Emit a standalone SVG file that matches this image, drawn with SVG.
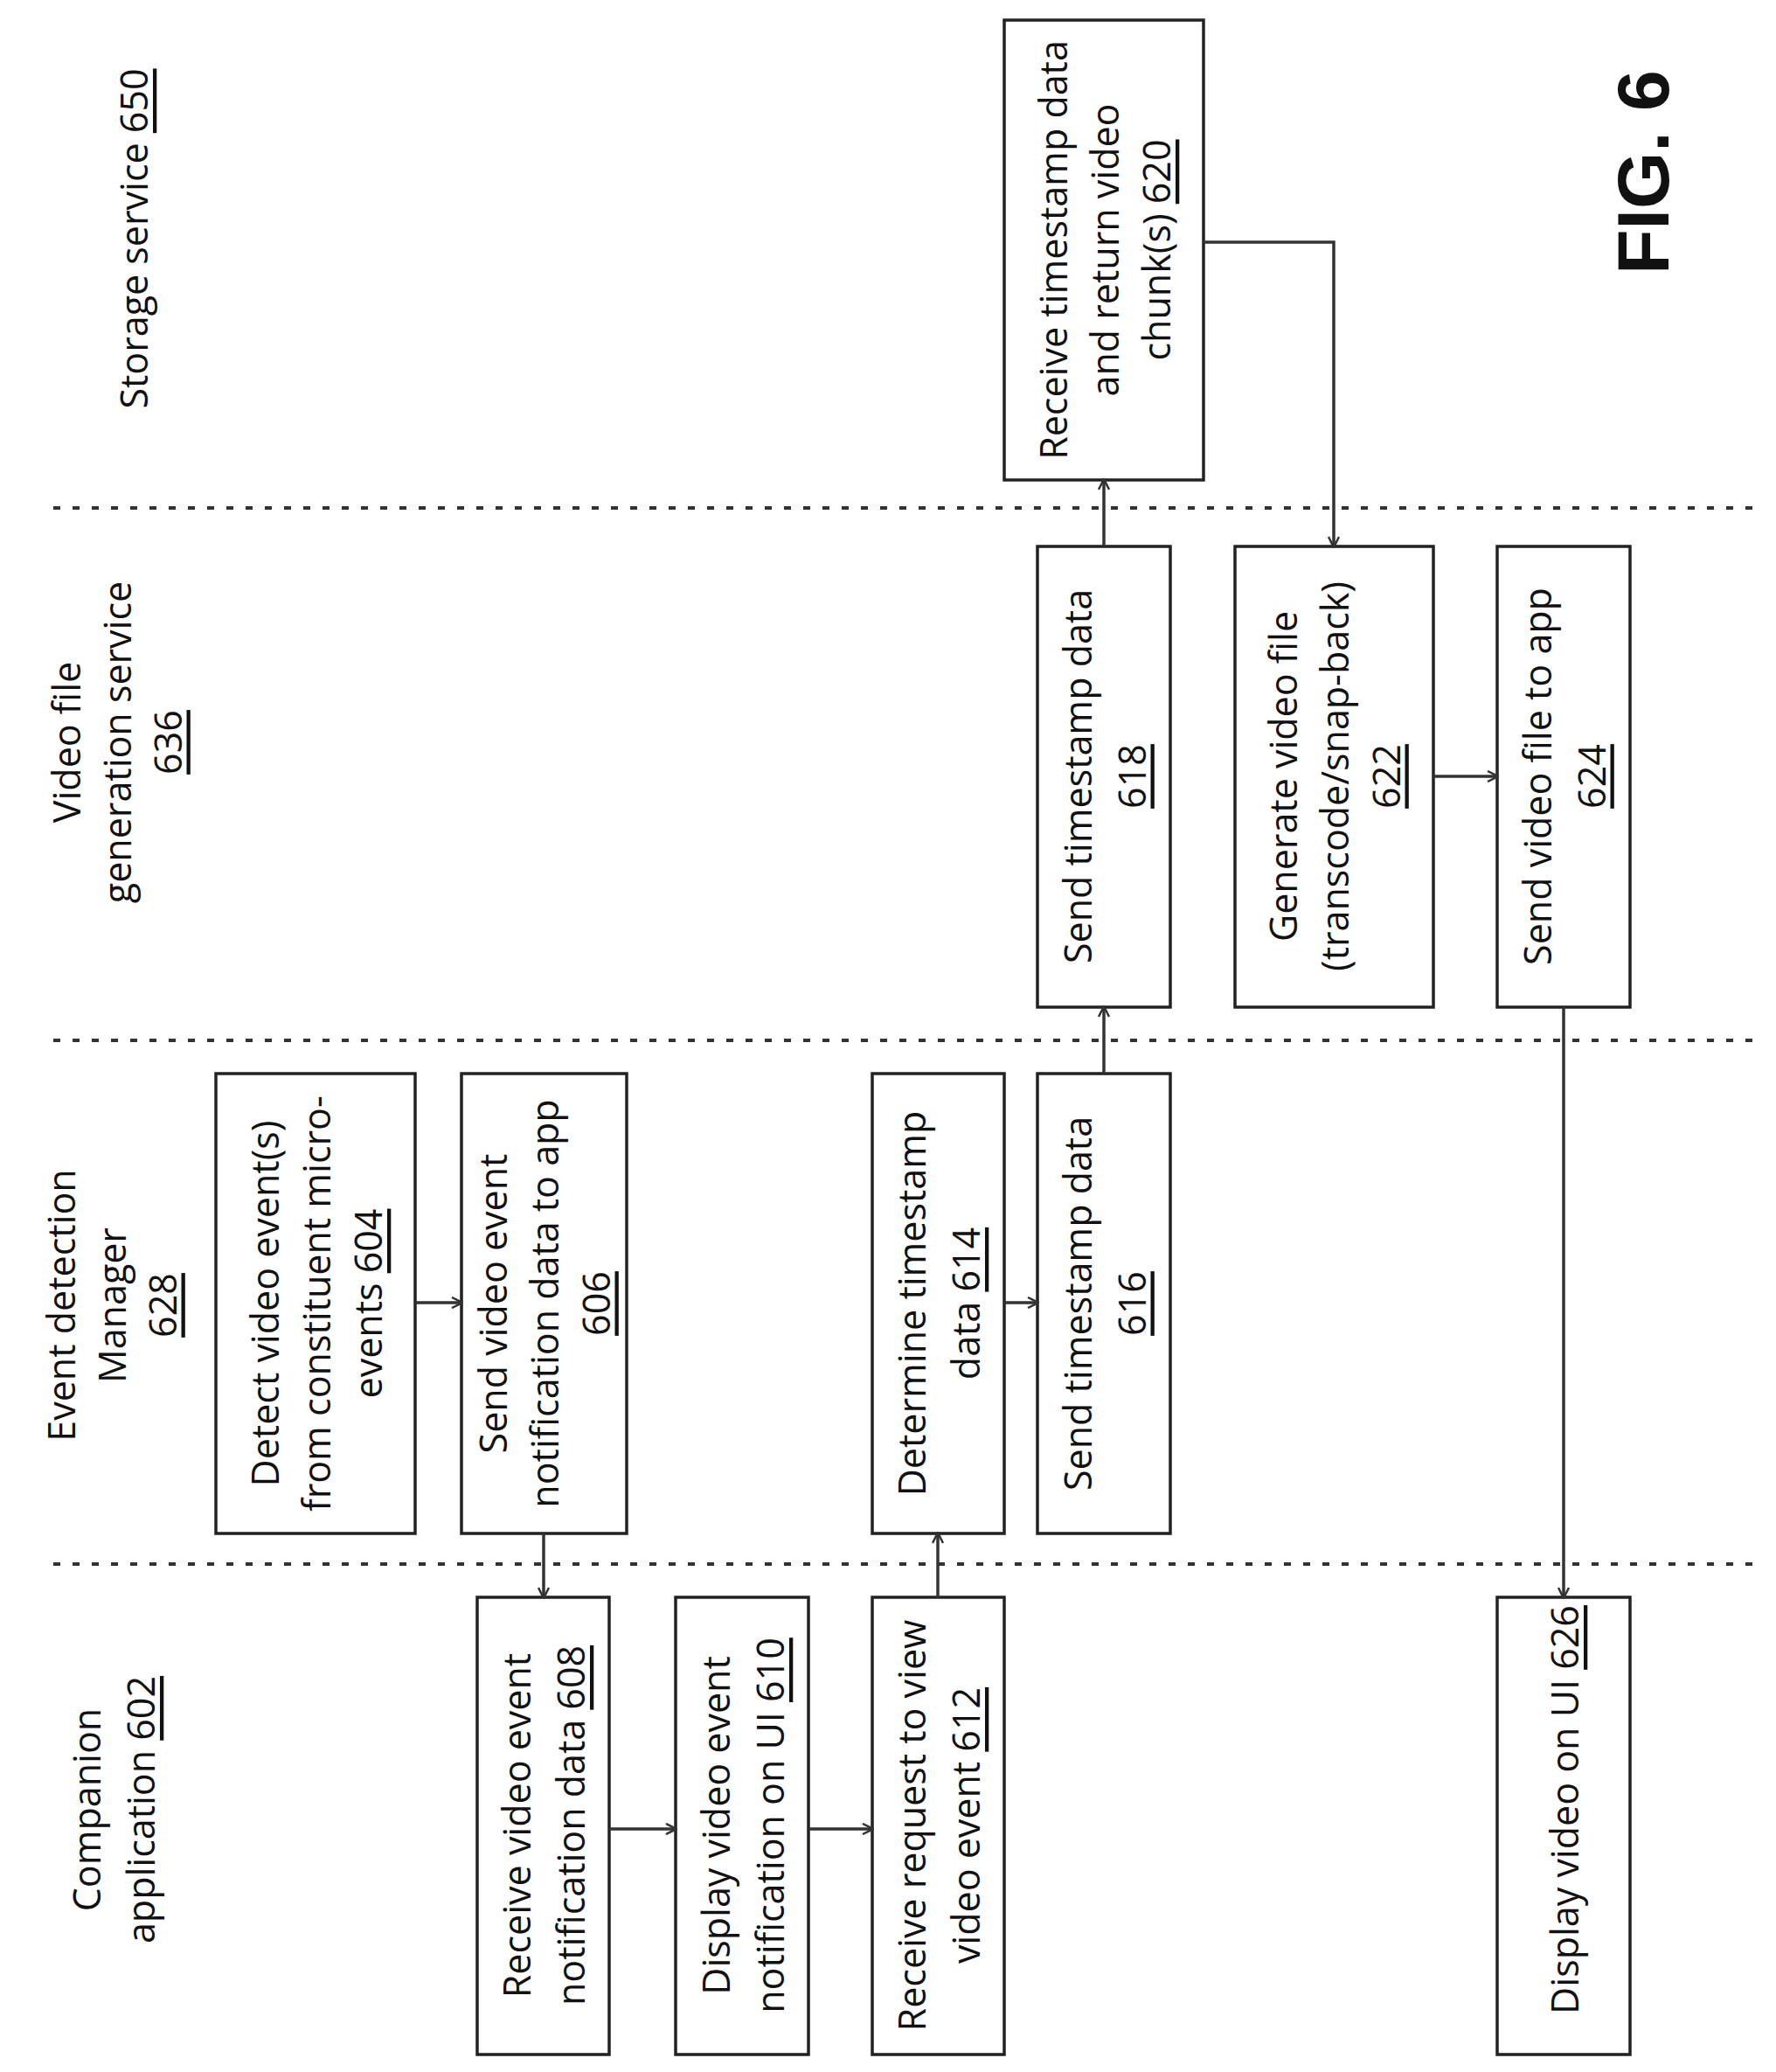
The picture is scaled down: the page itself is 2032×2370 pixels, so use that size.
<svg xmlns="http://www.w3.org/2000/svg" width="2032" height="2370" viewBox="0 0 2032 2370">
<style>
text{font-family:"Open Sans","Liberation Sans",sans-serif;font-size:43px;fill:#111;text-anchor:middle;dominant-baseline:central}
.b{fill:#fff;stroke:#222;stroke-width:3.5}
.d{stroke:#333;stroke-width:4;stroke-dasharray:8 14}
.c{fill:none;stroke:#333;stroke-width:3.5}
.u{text-decoration:underline}
.f{font-family:"Liberation Sans",sans-serif;font-weight:bold;font-size:84px}
</style>
<defs><marker id="a" markerWidth="14" markerHeight="14" refX="12" refY="7" orient="auto" markerUnits="userSpaceOnUse"><path d="M1,1 L13,7 L1,13" fill="none" stroke="#333" stroke-width="2.5"/></marker></defs>
<rect width="2032" height="2370" fill="#fff"/>
<g id="lanes">
<line class="d" x1="61" y1="581" x2="2016" y2="581"/>
<line class="d" x1="61" y1="1190" x2="2016" y2="1190"/>
<line class="d" x1="61" y1="1789" x2="2016" y2="1789"/>
<g transform="translate(152,273) rotate(-90)"><text>Storage service <tspan class="u">650</tspan></text></g>
<g transform="translate(133,849) rotate(-90)"><text y="-58">Video file</text><text y="0">generation service</text><text y="58" class="u">636</text></g>
<g transform="translate(127,1493) rotate(-90)"><text y="-58">Event detection</text><text y="0">Manager</text><text y="58" class="u">628</text></g>
<g transform="translate(129,2070) rotate(-90)"><text y="-31">Companion</text><text y="31">application <tspan class="u">602</tspan></text></g>
<g transform="translate(1880,197) rotate(-90)"><text class="f">FIG. 6</text></g>
</g>
<g id="n604"><rect class="b" x="247" y="1228" width="228" height="526"/><g transform="translate(361,1491) rotate(-90)"><text y="-59">Detect video event(s)</text><text y="0">from constituent micro-</text><text y="59">events <tspan class="u">604</tspan></text></g></g>
<g id="n606"><rect class="b" x="528" y="1228" width="189" height="526"/><g transform="translate(622,1491) rotate(-90)"><text y="-59">Send video event</text><text y="0">notification data to app</text><text y="59" class="u">606</text></g></g>
<g id="n608"><rect class="b" x="546" y="1827" width="151" height="523"/><g transform="translate(621,2088) rotate(-90)"><text y="-31">Receive video event</text><text y="31">notification data <tspan class="u">608</tspan></text></g></g>
<g id="n610"><rect class="b" x="773" y="1827" width="152" height="523"/><g transform="translate(849,2088) rotate(-90)"><text y="-31">Display video event</text><text y="31">notification on UI <tspan class="u">610</tspan></text></g></g>
<g id="n612"><rect class="b" x="998" y="1827" width="151" height="523"/><g transform="translate(1073,2088) rotate(-90)"><text y="-31">Receive request to view</text><text y="31">video event <tspan class="u">612</tspan></text></g></g>
<g id="n614"><rect class="b" x="998" y="1228" width="151" height="526"/><g transform="translate(1073,1491) rotate(-90)"><text y="-31">Determine timestamp</text><text y="31">data <tspan class="u">614</tspan></text></g></g>
<g id="n616"><rect class="b" x="1187" y="1228" width="152" height="526"/><g transform="translate(1263,1491) rotate(-90)"><text y="-31">Send timestamp data</text><text y="31" class="u">616</text></g></g>
<g id="n618"><rect class="b" x="1187" y="625" width="152" height="527"/><g transform="translate(1263,888) rotate(-90)"><text y="-31">Send timestamp data</text><text y="31" class="u">618</text></g></g>
<g id="n620"><rect class="b" x="1149" y="23" width="228" height="526"/><g transform="translate(1263,286) rotate(-90)"><text y="-59">Receive timestamp data</text><text y="0">and return video</text><text y="59">chunk(s) <tspan class="u">620</tspan></text></g></g>
<g id="n622"><rect class="b" x="1413" y="625" width="227" height="527"/><g transform="translate(1526,888) rotate(-90)"><text y="-59">Generate video file</text><text y="0">(transcode/snap-back)</text><text y="59" class="u">622</text></g></g>
<g id="n624"><rect class="b" x="1713" y="625" width="152" height="527"/><g transform="translate(1789,888) rotate(-90)"><text y="-31">Send video file to app</text><text y="31" class="u">624</text></g></g>
<g id="n626"><rect class="b" x="1713" y="1827" width="152" height="523"/><g transform="translate(1789,2070) rotate(-90)"><text>Display video on UI <tspan class="u">626</tspan></text></g></g>
<g id="connectors">
<line class="c" x1="475" y1="1490" x2="528" y2="1490" marker-end="url(#a)"/>
<line class="c" x1="622" y1="1754" x2="622" y2="1827" marker-end="url(#a)"/>
<line class="c" x1="697" y1="2092" x2="773" y2="2092" marker-end="url(#a)"/>
<line class="c" x1="925" y1="2092" x2="998" y2="2092" marker-end="url(#a)"/>
<line class="c" x1="1073" y1="1827" x2="1073" y2="1754" marker-end="url(#a)"/>
<line class="c" x1="1149" y1="1490" x2="1187" y2="1490" marker-end="url(#a)"/>
<line class="c" x1="1263" y1="1228" x2="1263" y2="1152" marker-end="url(#a)"/>
<line class="c" x1="1263" y1="625" x2="1263" y2="549" marker-end="url(#a)"/>
<polyline class="c" points="1377,277 1526,277 1526,625" marker-end="url(#a)"/>
<line class="c" x1="1640" y1="888" x2="1713" y2="888" marker-end="url(#a)"/>
<line class="c" x1="1789" y1="1152" x2="1789" y2="1827" marker-end="url(#a)"/>
</g>
</svg>
